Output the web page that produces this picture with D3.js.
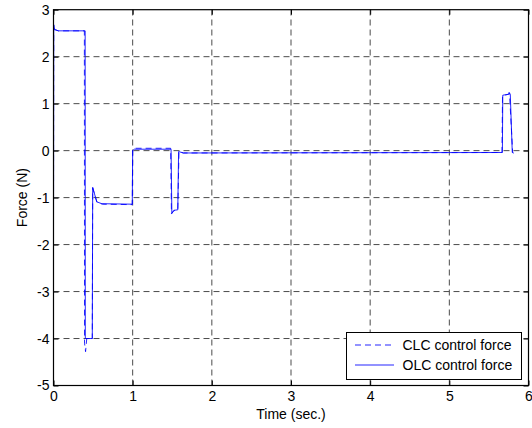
<!DOCTYPE html>
<html>
<head>
<meta charset="utf-8">
<script src="https://cdn.jsdelivr.net/npm/d3@7"></script>
<style>
  body { margin: 0; background: #fff; }
  svg { display: block; }
</style>
</head>
<body>
<svg id="chart" width="532" height="428"></svg>
<script>
// OLC control force (solid)
const olcTime  = [0, 0.003, 0.012, 0.06, 0.40, 0.402, 0.49, 0.495, 0.546, 0.61, 0.995, 1.0, 1.02, 1.485, 1.495, 1.52, 1.57, 1.58, 1.64, 5.67, 5.675, 5.75, 5.755, 5.77, 5.795, 5.81];
const olcForce = [-1.5, 2.68, 2.58, 2.55, 2.55, -4.0, -4.0, -0.78, -1.09, -1.13, -1.14, 0.0, 0.03, 0.03, -1.33, -1.27, -1.26, -0.02, -0.05, -0.04, 1.18, 1.2, 1.24, 1.2, -0.04, -0.05];

// CLC control force (dashed)
const clcTime  = [0, 0.003, 0.012, 0.06, 0.39, 0.392, 0.405, 0.42, 0.49, 0.495, 0.55, 0.62, 0.995, 1.0, 1.02, 1.48, 1.49, 1.52, 1.57, 1.585, 1.64, 5.665, 5.672, 5.745, 5.76, 5.8, 5.81];
const clcForce = [-1.5, 2.68, 2.58, 2.55, 2.55, -4.1, -4.28, -4.0, -4.0, -0.8, -1.1, -1.14, -1.15, 0.02, 0.05, 0.05, -1.35, -1.28, -1.26, -0.02, -0.05, -0.04, 1.17, 1.2, 1.22, -0.04, -0.05];

const xTicks = [0, 1, 2, 3, 4, 5, 6];
const yTicks = [-5, -4, -3, -2, -1, 0, 1, 2, 3];
const legendLabels = ["CLC control force", "OLC control force"];

const svg = d3.select("#chart");
const width = 532, height = 428;
const margin = { top: 9.7, right: 3.5, bottom: 42.5, left: 53.5 };
const font = "Liberation Sans, Arial, Helvetica, sans-serif";
const fs = "14px";

const x = d3.scaleLinear().domain([0, 6]).range([margin.left, width - margin.right]);
const y = d3.scaleLinear().domain([-5, 3]).range([height - margin.bottom, margin.top]);

// grid
const grid = svg.append("g").attr("stroke", "#000").attr("stroke-width", 1)
  .attr("stroke-dasharray", "6,4").attr("opacity", 0.7);
grid.selectAll(".gx").data(xTicks.slice(1, -1)).join("line")
  .attr("x1", d => x(d)).attr("x2", d => x(d))
  .attr("y1", y(-5)).attr("y2", y(3));
grid.selectAll(".gy").data(yTicks.slice(1, -1)).join("line")
  .attr("x1", x(0)).attr("x2", x(6))
  .attr("y1", d => y(d)).attr("y2", d => y(d));

// lines
const line = (ts, vs) => d3.line().x((d, i) => x(ts[i])).y((d, i) => y(vs[i]))(ts);

svg.append("path")
  .attr("d", line(clcTime, clcForce))
  .attr("fill", "none").attr("stroke", "#0000ff").attr("stroke-width", 1)
  .attr("stroke-dasharray", "6,4").attr("opacity", 0.85);

svg.append("path")
  .attr("d", line(olcTime, olcForce))
  .attr("fill", "none").attr("stroke", "#0000ff").attr("stroke-width", 1)
  .attr("opacity", 0.85);

// axes (ticks inward, box); plain hyphen for negatives like MATLAB
const tickLen = 5;
const plain = d => String(d);
const axisStyle = g => {
  g.select(".domain").remove();
  g.selectAll("text").attr("font-size", fs).attr("font-family", font).attr("fill", "#000");
  g.selectAll("line").attr("stroke", "#000");
};

svg.append("g")
  .attr("transform", `translate(0,${y(-5)})`)
  .call(d3.axisBottom(x).tickValues(xTicks).tickFormat(plain).tickSizeInner(-tickLen).tickPadding(6))
  .call(axisStyle);
svg.append("g")
  .attr("transform", `translate(0,${y(3)})`)
  .call(d3.axisTop(x).tickValues(xTicks).tickFormat("").tickSizeInner(-tickLen))
  .call(axisStyle);
svg.append("g")
  .attr("transform", `translate(${x(0)},0)`)
  .call(d3.axisLeft(y).tickValues(yTicks).tickFormat(plain).tickSizeInner(-tickLen).tickPadding(4))
  .call(axisStyle);
svg.append("g")
  .attr("transform", `translate(${x(6)},0)`)
  .call(d3.axisRight(y).tickValues(yTicks).tickFormat("").tickSizeInner(-tickLen))
  .call(axisStyle);

svg.append("rect")
  .attr("x", x(0)).attr("y", y(3))
  .attr("width", x(6) - x(0)).attr("height", y(-5) - y(3))
  .attr("fill", "none").attr("stroke", "#000").attr("stroke-width", 1.2);

// axis labels
svg.append("text")
  .attr("x", (x(0) + x(6)) / 2).attr("y", 419)
  .attr("text-anchor", "middle").attr("font-size", fs).attr("font-family", font)
  .text("Time (sec.)");
svg.append("text")
  .attr("transform", `translate(27,${(y(3) + y(-5)) / 2}) rotate(-90)`)
  .attr("text-anchor", "middle").attr("font-size", fs).attr("font-family", font)
  .text("Force (N)");

// legend
const lg = svg.append("g");
lg.append("rect")
  .attr("x", 346.5).attr("y", 332.5).attr("width", 175).attr("height", 47)
  .attr("fill", "#fff").attr("stroke", "#000").attr("stroke-width", 1);
legendLabels.forEach((lab, i) => {
  const ly = 345 + i * 20;
  lg.append("line")
    .attr("x1", 355).attr("x2", 394).attr("y1", ly).attr("y2", ly)
    .attr("stroke", "#0000ff").attr("stroke-width", 1).attr("opacity", 0.85)
    .attr("stroke-dasharray", i === 0 ? "6,4" : null);
  lg.append("text")
    .attr("x", 402.5).attr("y", ly).attr("dy", "0.35em")
    .attr("font-size", fs).attr("font-family", font)
    .text(lab);
});
</script>
</body>
</html>
